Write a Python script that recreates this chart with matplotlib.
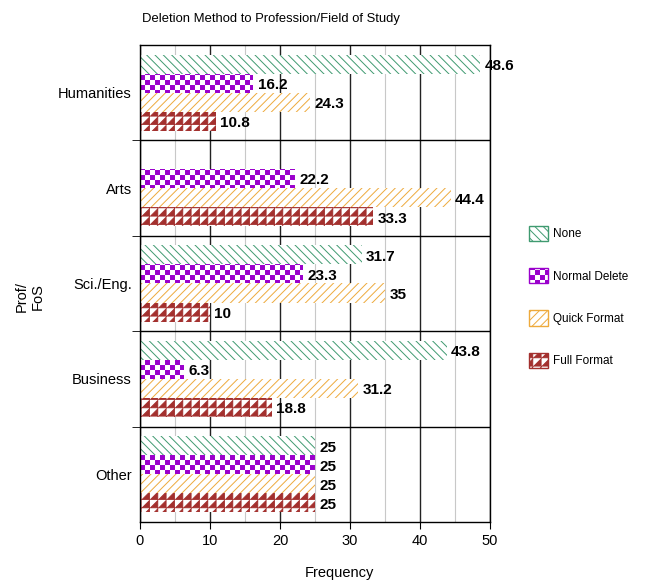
import warnings
import numpy as np
import matplotlib
matplotlib.use('Agg')
import matplotlib.pyplot as plt
import matplotlib.hatch as mhatch
from matplotlib.path import Path
from matplotlib.patches import Patch
from matplotlib.ticker import MultipleLocator, FixedLocator, NullFormatter

warnings.filterwarnings('ignore')

fields = ['Humanities', 'Arts', 'Sci./Eng.', 'Business', 'Other']
methods = ['None', 'Normal Delete', 'Quick Format', 'Full Format']
none_vals = [48.6, 0, 31.7, 43.8, 25]
normal_vals = [16.2, 22.2, 23.3, 6.3, 25]
quick_vals = [24.3, 44.4, 35, 31.2, 25]
full_vals = [10.8, 33.3, 10, 18.8, 25]

colors = ['#3f9a70', '#9a00cc', '#eeaa3c', '#a3302e']
hatches = ['\\\\\\\\', 'c', '////', 'T']


# extra hatch patterns: 'c' = checkerboard, 'T' = row of filled triangles
class CheckerHatch(mhatch.HatchPatternBase):
    def __init__(self, hatch, density):
        self.n = 20 if 'c' in hatch else 0
        self.num_vertices = self.n * self.n // 2 * 5

    def set_vertices_and_codes(self, vertices, codes):
        s = 1.0 / self.n
        d = 0.005
        k = 0
        for i in range(self.n):
            for j in range(self.n):
                if (i + j) % 2:
                    continue
                x, y = i * s, j * s
                vertices[k:k + 5] = [(x + d, y + d), (x + s - d, y + d),
                                     (x + s - d, y + s - d), (x + d, y + s - d),
                                     (x + d, y + d)]
                codes[k:k + 5] = [Path.MOVETO, Path.LINETO, Path.LINETO,
                                  Path.LINETO, Path.CLOSEPOLY]
                k += 5


class TriangleHatch(mhatch.HatchPatternBase):
    def __init__(self, hatch, density):
        self.n = 12 if 'T' in hatch else 0
        self.num_vertices = self.n * self.n * 4

    def set_vertices_and_codes(self, vertices, codes):
        s = 1.0 / self.n
        d = 0.006
        k = 0
        for i in range(self.n):
            for j in range(self.n):
                x, y = i * s, j * s
                vertices[k:k + 4] = [(x + d, y + d), (x + s - d, y + d),
                                     (x + s - d, y + s - d), (x + d, y + d)]
                codes[k:k + 4] = [Path.MOVETO, Path.LINETO, Path.LINETO,
                                  Path.CLOSEPOLY]
                k += 4


mhatch._hatch_types.append(CheckerHatch)
mhatch._hatch_types.append(TriangleHatch)

plt.rcParams['font.family'] = ['Liberation Sans', 'DejaVu Sans']
plt.rcParams['hatch.linewidth'] = 0.7

fig = plt.figure(figsize=(6.55, 5.82), dpi=100)
ax = fig.add_axes([0.2137, 0.1031, 0.5344, 0.8196])

y = np.arange(len(fields))[::-1]
offsets = [0.3, 0.1, -0.1, -0.3]
series = [none_vals, normal_vals, quick_vals, full_vals]

for vals, off, c, h in zip(series, offsets, colors, hatches):
    ax.barh(y + off, vals, height=0.2, color='white', edgecolor=c,
            linewidth=0, hatch=h, zorder=2)
    for yy, v in zip(y + off, vals):
        if v > 0:
            ax.text(v + 0.6, yy - 0.02, f'{v:g}', ha='left', va='center',
                    fontsize=11, fontweight='bold', zorder=3)

ax.set_xlim(0, 50)
ax.set_ylim(-0.5, len(fields) - 0.5)
ax.set_axisbelow(True)

ax.xaxis.set_major_locator(MultipleLocator(10))
ax.xaxis.set_minor_locator(MultipleLocator(5))
ax.grid(axis='x', which='major', color='#222222', linewidth=1)
ax.grid(axis='x', which='minor', color='#c8c8c8', linewidth=0.8)
ax.tick_params(axis='x', which='major', length=5, labelsize=10.5, pad=4)
ax.tick_params(axis='x', which='minor', length=0)

ax.set_yticks(y)
ax.set_yticklabels(fields)
ax.yaxis.set_minor_locator(FixedLocator(np.arange(len(fields) - 1) + 0.5))
ax.yaxis.set_minor_formatter(NullFormatter())
ax.grid(axis='y', which='minor', color='black', linewidth=1)
ax.tick_params(axis='y', which='major', length=0, labelsize=10.5, pad=6)
ax.tick_params(axis='y', which='minor', length=6)

for sp in ax.spines.values():
    sp.set_color('black')
    sp.set_linewidth(1)

ax.set_xlabel('Frequency', fontsize=10.5)
ax.xaxis.set_label_coords(0.571, -0.092)

fig.text(0.046, 0.49, 'Prof/\nFoS', rotation=90, ha='center', va='center',
         fontsize=10.5)
fig.text(0.414, 0.968, 'Deletion Method to Profession/Field of Study',
         ha='center', va='center', fontsize=9.4)

handles = [Patch(facecolor='white', edgecolor=c, hatch=h, linewidth=1)
           for c, h in zip(colors, hatches)]
fig.legend(handles, methods, loc='upper left', bbox_to_anchor=(0.808, 0.612),
           frameon=False, fontsize=8.5, handlelength=1.6, handleheight=1.6,
           labelspacing=2.3, handletextpad=0.4, borderpad=0, borderaxespad=0)

fig.savefig('out.png', dpi=100)
